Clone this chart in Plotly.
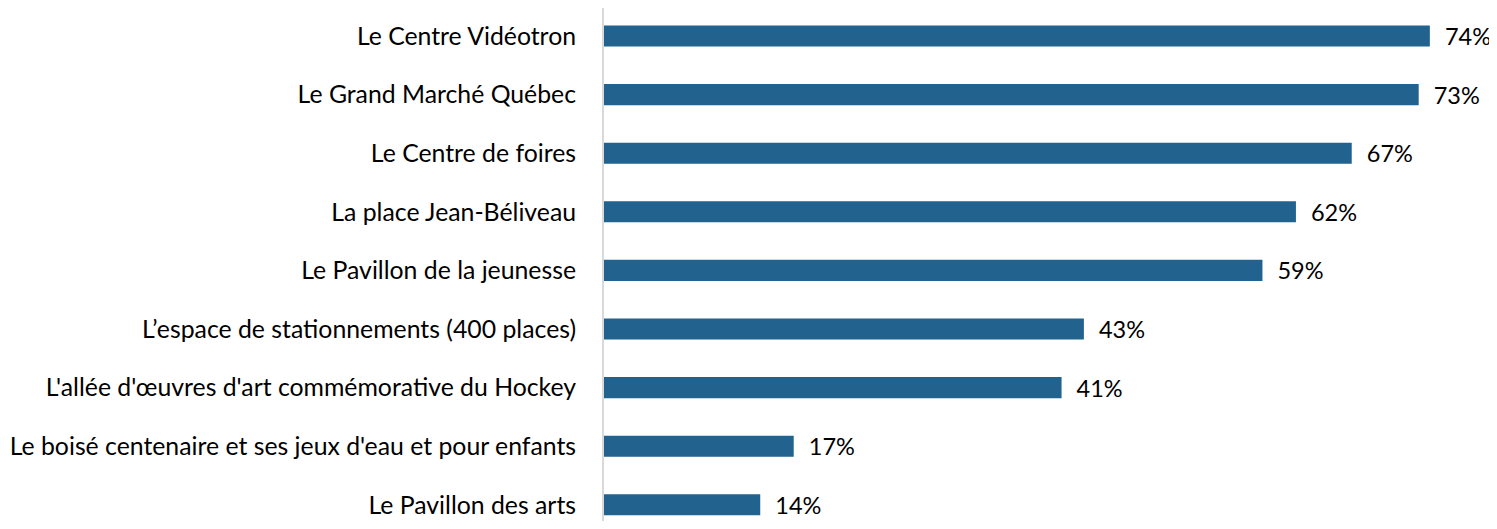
import plotly.graph_objects as go

lieux = [
    "Le Centre Vidéotron",
    "Le Grand Marché Québec",
    "Le Centre de foires",
    "La place Jean-Béliveau",
    "Le Pavillon de la jeunesse",
    "L’espace de stationnements (400 places)",
    "L'allée d'œuvres d'art commémorative du Hockey",
    "Le boisé centenaire et ses jeux d'eau et pour enfants",
    "Le Pavillon des arts",
]
pourcentages = [74, 73, 67, 62, 59, 43, 41, 17, 14]

fig = go.Figure()
fig.add_trace(go.Bar(
    x=pourcentages,
    y=lieux,
    orientation="h",
    marker=dict(color="#21628F", line=dict(width=0)),
    text=[f"\u00a0\u00a0{v}%" for v in pourcentages],
    textposition="outside",
    constraintext="none",
    textfont=dict(size=23.5, color="#000000", family="Lato"),
    cliponaxis=False,
))

# la page ajoute 8 px de marge au body : on compense (pas de barre de défilement)
fig.update_layout(
    width=1489,
    height=513,
    margin=dict(l=596, r=8, t=0, b=0),
    plot_bgcolor="white",
    paper_bgcolor="white",
    bargap=0.64,
    showlegend=False,
    font=dict(family="Lato", size=24, color="#000000"),
)
fig.update_xaxes(range=[0, 79.3], visible=False, showgrid=False, zeroline=False)
fig.update_yaxes(
    range=[8.276, -0.478],
    showline=True,
    linecolor="#d9d9d9",
    linewidth=2,
    showgrid=False,
    zeroline=False,
    ticks="",
    ticklabelstandoff=21,
    tickfont=dict(size=24.8, family="Lato"),
)

fig.write_html("out.html")
